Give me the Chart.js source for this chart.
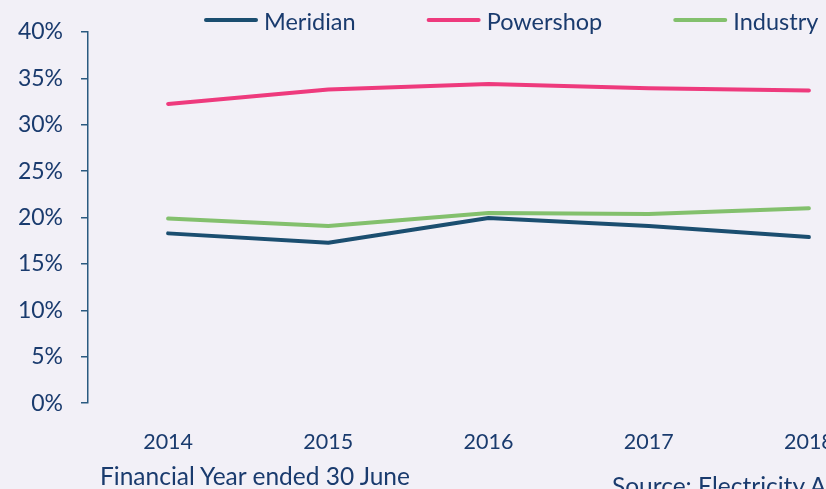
<!DOCTYPE html>
<html>
<head>
<meta charset="utf-8">
<script src="https://cdn.jsdelivr.net/npm/chart.js@4.4.1/dist/chart.umd.min.js"></script>
<style>
  html, body { margin: 0; padding: 0; width: 826px; height: 489px; overflow: hidden; background: #f2f0f7; }
  #wrap { position: absolute; left: 0; top: 0; width: 900px; height: 489px; }
  .note { position: absolute; font-family: Lato, "Open Sans", sans-serif; color: #1a3b6e; font-size: 24.5px; white-space: nowrap; }
</style>
</head>
<body>
<div id="wrap"><canvas id="c" width="900" height="489"></canvas></div>
<div class="note" style="left:100px; top:461px;">Financial Year ended 30 June</div>
<div class="note" style="left:612px; top:471px;">Source: Electricity Authority</div>
<script>
const years = ["2014", "2015", "2016", "2017", "2018"];
const meridian = [18.3, 17.3, 19.95, 19.1, 17.9];
const powershop = [32.25, 33.8, 34.4, 33.95, 33.7];
const industry = [19.9, 19.1, 20.5, 20.4, 21.0];
const yTicks = [0, 5, 10, 15, 20, 25, 30, 35, 40];

const NAVY = '#1a3b6e';
const FONT = 'Lato, "Open Sans", sans-serif';

const legendPlugin = {
  id: 'lineLegend',
  afterDraw(chart) {
    const ctx = chart.ctx;
    const o = chart.options.plugins.lineLegend;
    ctx.save();
    ctx.font = o.fontSize + 'px ' + FONT;
    ctx.textBaseline = 'middle';
    ctx.textAlign = 'left';
    let x = o.startX;
    chart.data.datasets.forEach(ds => {
      ctx.strokeStyle = ds.borderColor;
      ctx.lineWidth = 4;
      ctx.lineCap = 'round';
      ctx.beginPath();
      ctx.moveTo(x + 2, o.y);
      ctx.lineTo(x + o.lineLen - 2, o.y);
      ctx.stroke();
      ctx.fillStyle = NAVY;
      ctx.fillText(ds.label, x + o.lineLen + o.textGap, o.y + 2);
      x += o.lineLen + o.textGap + ctx.measureText(ds.label).width + o.itemGap;
    });
    ctx.restore();
  }
};

new Chart(document.getElementById('c'), {
  type: 'line',
  data: {
    labels: years,
    datasets: [
      { label: 'Meridian', data: meridian, borderColor: '#1b4e70', backgroundColor: '#1b4e70' },
      { label: 'Powershop', data: powershop, borderColor: '#ee3a7d', backgroundColor: '#ee3a7d' },
      { label: 'Industry', data: industry, borderColor: '#83c06d', backgroundColor: '#83c06d' }
    ]
  },
  options: {
    responsive: false,
    animation: false,
    layout: { padding: { top: 32, right: 11, bottom: 8, left: 0 } },
    elements: {
      line: { borderWidth: 4, tension: 0, borderCapStyle: 'round', borderJoinStyle: 'round' },
      point: { radius: 0, hoverRadius: 0 }
    },
    plugins: {
      legend: { display: false },
      tooltip: { enabled: false },
      lineLegend: { startX: 204, y: 20, lineLen: 54, textGap: 6, itemGap: 71, fontSize: 23.5 }
    },
    scales: {
      x: {
        offset: true,
        grid: { display: false, drawTicks: false },
        border: { display: false },
        ticks: { color: NAVY, font: { family: FONT, size: 21.5 }, padding: 26, maxRotation: 0 }
      },
      y: {
        min: 0,
        max: 40,
        afterFit(scale) { scale.width = 88; },
        afterBuildTicks(scale) { scale.ticks = yTicks.map(v => ({ value: v })); },
        grid: { drawOnChartArea: false, drawTicks: true, tickLength: 7, color: '#2a5a80', lineWidth: 1.5 },
        border: { display: true, color: '#2a5a80', width: 1.5 },
        ticks: {
          color: NAVY,
          font: { family: FONT, size: 23 },
          padding: 18,
          callback: v => v + '%'
        }
      }
    }
  },
  plugins: [legendPlugin]
});
</script>
</body>
</html>
